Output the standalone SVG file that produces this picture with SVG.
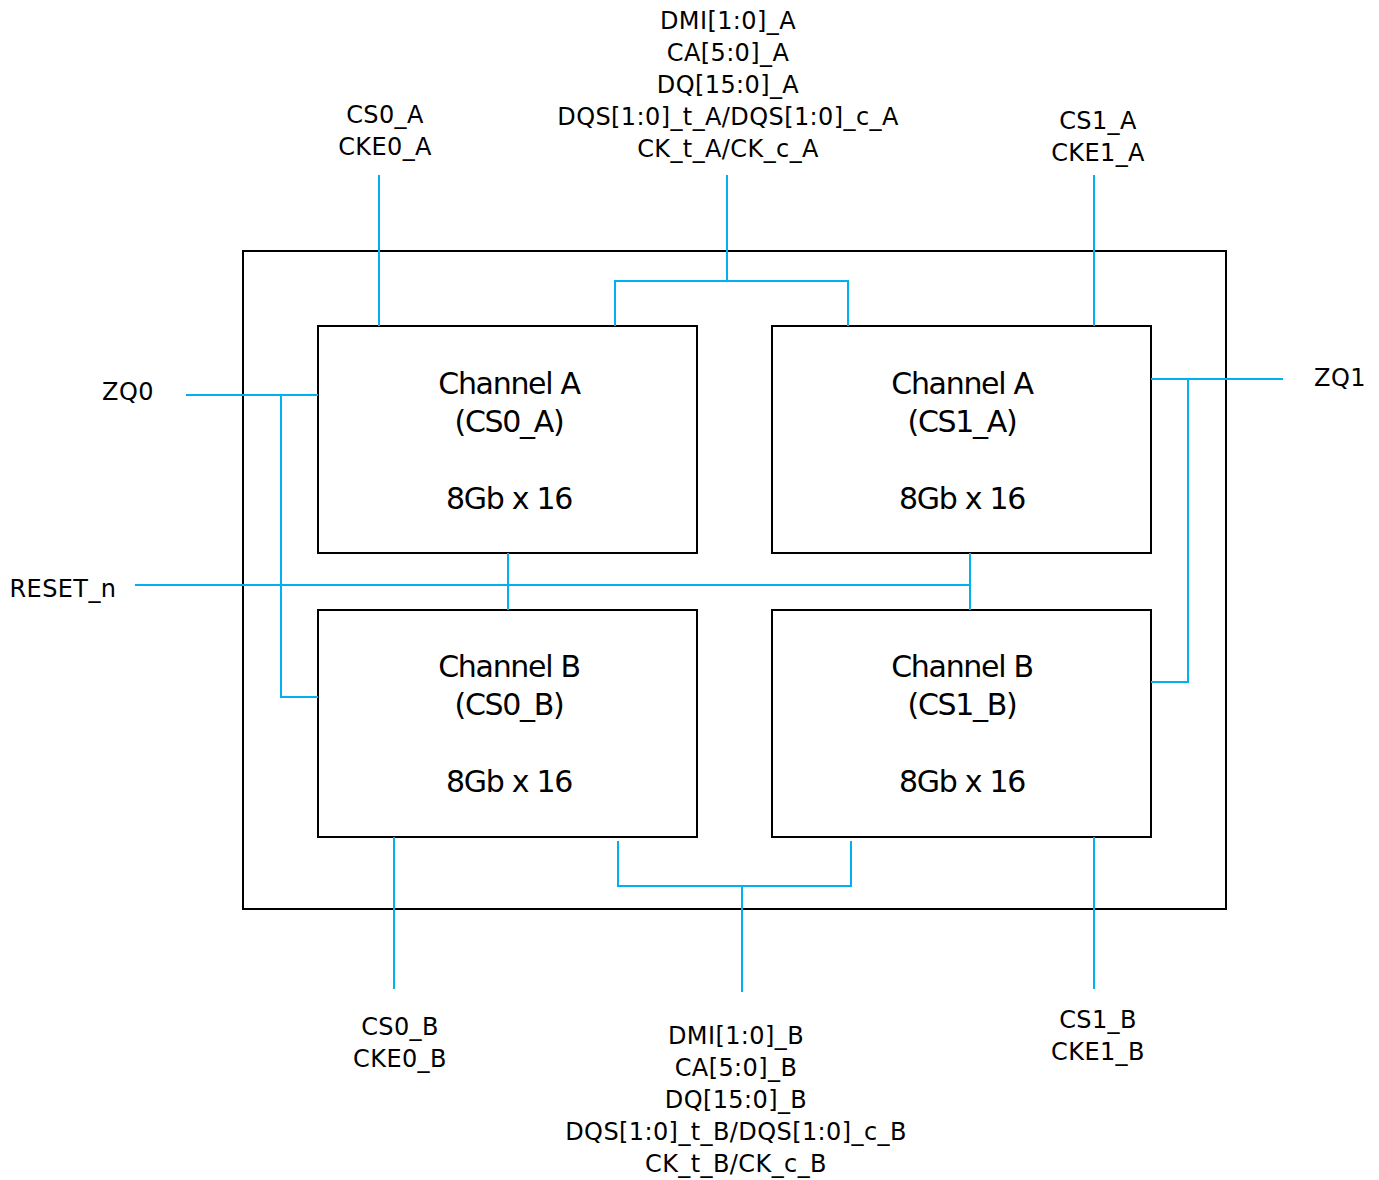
<svg xmlns="http://www.w3.org/2000/svg" width="1379" height="1180" viewBox="0 0 1379 1180">
<style>
.box{fill:#fff;stroke:#000;stroke-width:2}
.w{fill:none;stroke:#00B0F0;stroke-width:2}
.t{font-family:"DejaVu Sans",sans-serif;font-size:24px;fill:#000;text-anchor:middle;letter-spacing:0.4px}
.b{font-family:"DejaVu Sans",sans-serif;font-size:30px;fill:#000;text-anchor:middle;letter-spacing:-1.3px}
</style>
<rect width="1379" height="1180" fill="#fff"/>
<g id="package"><rect class="box" x="243" y="251" width="983" height="658"/></g>
<g id="chA0"><rect class="box" x="318" y="326" width="379" height="227"/>
<text class="b" x="509" y="394">Channel A</text><text class="b" x="509" y="432">(CS0_A)</text><text class="b" x="509" y="509">8Gb x 16</text></g>
<g id="chA1"><rect class="box" x="772" y="326" width="379" height="227"/>
<text class="b" x="962" y="394">Channel A</text><text class="b" x="962" y="432">(CS1_A)</text><text class="b" x="962" y="509">8Gb x 16</text></g>
<g id="chB0"><rect class="box" x="318" y="610" width="379" height="227"/>
<text class="b" x="509" y="677">Channel B</text><text class="b" x="509" y="715">(CS0_B)</text><text class="b" x="509" y="792">8Gb x 16</text></g>
<g id="chB1"><rect class="box" x="772" y="610" width="379" height="227"/>
<text class="b" x="962" y="677">Channel B</text><text class="b" x="962" y="715">(CS1_B)</text><text class="b" x="962" y="792">8Gb x 16</text></g>
<g id="connectors">
<path class="w" d="M379 175V326"/>
<path class="w" d="M727 175V281M615 326V281H848V326"/>
<path class="w" d="M1094 175V326"/>
<path class="w" d="M186 395H318M281 395V697H318"/>
<path class="w" d="M135 585H970M508 553V610M970 553V610"/>
<path class="w" d="M1283 379H1151M1188 379V682H1151"/>
<path class="w" d="M618 841V886H851V841M742 886V992"/>
<path class="w" d="M394 837V989"/>
<path class="w" d="M1094 837V989"/>
</g>
<g id="labels">
<text class="t" x="728" y="29">DMI[1:0]_A</text>
<text class="t" x="728" y="61">CA[5:0]_A</text>
<text class="t" x="728" y="93">DQ[15:0]_A</text>
<text class="t" x="728" y="125">DQS[1:0]_t_A/DQS[1:0]_c_A</text>
<text class="t" x="728" y="157">CK_t_A/CK_c_A</text>
<text class="t" x="385" y="123">CS0_A</text>
<text class="t" x="385" y="155">CKE0_A</text>
<text class="t" x="1098" y="129">CS1_A</text>
<text class="t" x="1098" y="161">CKE1_A</text>
<text class="t" x="128" y="400">ZQ0</text>
<text class="t" x="63" y="597">RESET_n</text>
<text class="t" x="1340" y="386">ZQ1</text>
<text class="t" x="400" y="1035">CS0_B</text>
<text class="t" x="400" y="1067">CKE0_B</text>
<text class="t" x="1098" y="1028">CS1_B</text>
<text class="t" x="1098" y="1060">CKE1_B</text>
<text class="t" x="736" y="1044">DMI[1:0]_B</text>
<text class="t" x="736" y="1076">CA[5:0]_B</text>
<text class="t" x="736" y="1108">DQ[15:0]_B</text>
<text class="t" x="736" y="1140">DQS[1:0]_t_B/DQS[1:0]_c_B</text>
<text class="t" x="736" y="1172">CK_t_B/CK_c_B</text>
</g>
</svg>
